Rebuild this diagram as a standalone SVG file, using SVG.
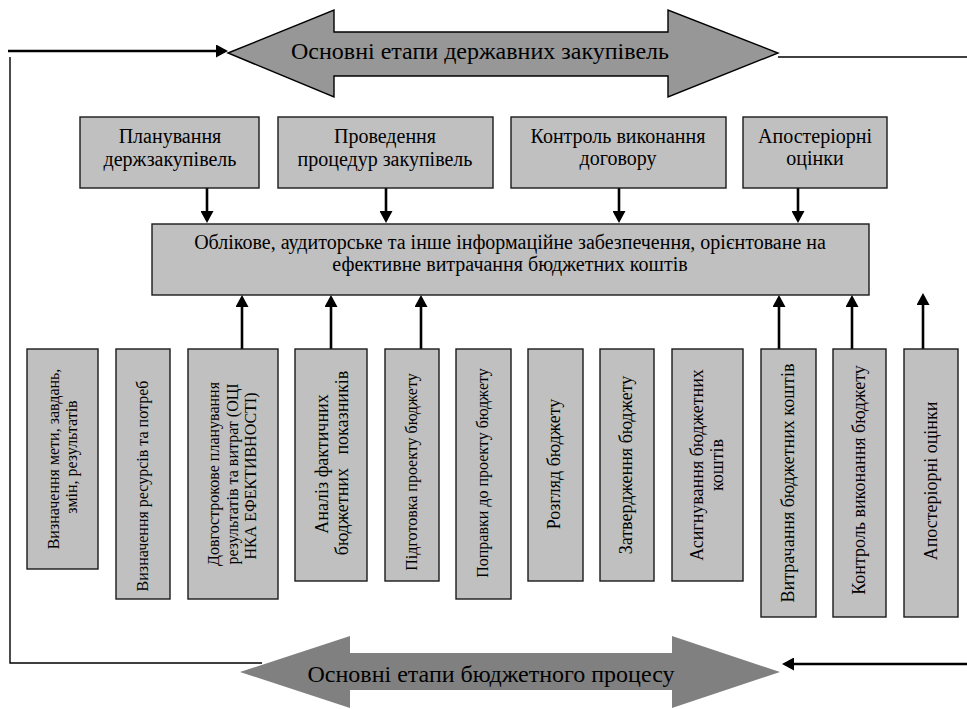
<svg xmlns="http://www.w3.org/2000/svg" width="967" height="709" viewBox="0 0 967 709">
<style>
.box{fill:#c0c0c0;stroke:#1a1a1a;stroke-width:1.4}
.t{font-family:"Liberation Serif","Times New Roman",serif;fill:#000}
.h{font-size:20px;text-anchor:middle}
.v{font-size:16px;text-anchor:middle}
.v2{font-size:18px;text-anchor:middle}
.big{font-size:24px;text-anchor:middle}
.thin{fill:none;stroke:#000;stroke-width:1.4}
.thick{fill:none;stroke:#000;stroke-width:2.6}
</style>
<defs>
<marker id="ah" markerUnits="userSpaceOnUse" markerWidth="12" markerHeight="13" refX="9" refY="6.5" orient="auto">
<path d="M0,0 L12,6.5 L0,13 z" fill="#000"/>
</marker>
</defs>
<rect width="967" height="709" fill="#fff"/>

<g id="top-arrow">
<polygon points="228,53 334,10 334,32 668,32 668,10 778,53 668,97 668,76 334,76 334,97" fill="#979797" stroke="#000" stroke-width="1.4"/>
<text class="t big" x="480" y="59">Основні етапи державних закупівель</text>
</g>

<g id="bottom-arrow">
<polygon points="240,672 350,636 350,653 672,653 672,636 780,672 672,708 672,690 350,690 350,708" fill="#808080"/>
<text class="t big" x="491" y="682">Основні етапи бюджетного процесу</text>
</g>

<g id="connectors">
<path class="thick" d="M8,51 H225" marker-end="url(#ah)"/>
<path class="thin" d="M10,57 V663 H262"/>
<path class="thin" d="M778,57 H967"/>
<path class="thick" d="M967,664 H785" marker-end="url(#ah)"/>
<path class="thick" d="M207,188 V220" marker-end="url(#ah)"/>
<path class="thick" d="M386,188 V220" marker-end="url(#ah)"/>
<path class="thick" d="M619,188 V220" marker-end="url(#ah)"/>
<path class="thick" d="M798,188 V220" marker-end="url(#ah)"/>
<path class="thick" d="M242,354 V298" marker-end="url(#ah)"/>
<path class="thick" d="M331,354 V298" marker-end="url(#ah)"/>
<path class="thick" d="M421,350 V298" marker-end="url(#ah)"/>
<path class="thick" d="M779,349 V298" marker-end="url(#ah)"/>
<path class="thick" d="M852,349 V298" marker-end="url(#ah)"/>
<path class="thick" d="M923,349 V296" marker-end="url(#ah)"/>
</g>

<g id="p1">
<rect class="box" x="80" y="117" width="179" height="71"/>
<text class="t h" x="170" y="143">Планування</text>
<text class="t h" x="170" y="166">держзакупівель</text>
</g>
<g id="p2">
<rect class="box" x="278" y="117" width="215" height="71"/>
<text class="t h" x="385" y="143">Проведення</text>
<text class="t h" x="385" y="166">процедур закупівель</text>
</g>
<g id="p3">
<rect class="box" x="511" y="117" width="215" height="71"/>
<text class="t h" x="618" y="143">Контроль виконання</text>
<text class="t h" x="618" y="165">договору</text>
</g>
<g id="p4">
<rect class="box" x="743" y="117" width="144" height="71"/>
<text class="t h" x="815" y="143">Апостеріорні</text>
<text class="t h" x="815" y="165">оцінки</text>
</g>

<g id="info">
<rect class="box" x="152" y="224" width="717" height="71"/>
<text class="t h" x="510" y="249">Облікове, аудиторське та інше інформаційне забезпечення, орієнтоване на</text>
<text class="t h" x="510" y="271">ефективне витрачання бюджетних коштів</text>
</g>

<g id="b1">
<rect class="box" x="27" y="349" width="71" height="220"/>
<text class="t v" transform="translate(59,459) rotate(-90)">Визначення мети, завдань,</text>
<text class="t v" transform="translate(77,457) rotate(-90)">змін, результатів</text>
</g>
<g id="b2">
<rect class="box" x="116" y="349" width="54" height="250"/>
<text class="t v" transform="translate(148,486) rotate(-90)">Визначення ресурсів та потреб</text>
</g>
<g id="b3">
<rect class="box" x="188" y="349" width="90" height="250"/>
<text class="t v" transform="translate(219,474) rotate(-90)">Довгострокове планування</text>
<text class="t v" transform="translate(238,474) rotate(-90)">результатів та витрат (ОЦІ</text>
<text class="t v" transform="translate(256,476) rotate(-90)">НКА ЕФЕКТИВНОСТІ)</text>
</g>
<g id="b4">
<rect class="box" x="295" y="349" width="72" height="232"/>
<text class="t v2" transform="translate(328,464) rotate(-90)">Аналіз фактичних</text>
<text class="t v2" xml:space="preserve" transform="translate(348,463) rotate(-90)">бюджетних   показників</text>
</g>
<g id="b5">
<rect class="box" x="385" y="349" width="54" height="232"/>
<text class="t v" transform="translate(417,472) rotate(-90)">Підготовка проекту бюджету</text>
</g>
<g id="b6">
<rect class="box" x="456" y="349" width="55" height="250"/>
<text class="t v" transform="translate(488,473) rotate(-90)">Поправки до проекту бюджету</text>
</g>
<g id="b7">
<rect class="box" x="528" y="349" width="55" height="232"/>
<text class="t v2" transform="translate(560,464) rotate(-90)">Розгляд бюджету</text>
</g>
<g id="b8">
<rect class="box" x="600" y="349" width="54" height="232"/>
<text class="t v2" transform="translate(632,465) rotate(-90)">Затвердження бюджету</text>
</g>
<g id="b9">
<rect class="box" x="672" y="349" width="71" height="232"/>
<text class="t v2" transform="translate(703,465) rotate(-90)">Асигнування бюджетних</text>
<text class="t v2" transform="translate(723,465) rotate(-90)">коштів</text>
</g>
<g id="b10">
<rect class="box" x="761" y="349" width="55" height="268"/>
<text class="t v2" transform="translate(794,483) rotate(-90)">Витрачання бюджетних коштів</text>
</g>
<g id="b11">
<rect class="box" x="833" y="349" width="53" height="268"/>
<text class="t v2" transform="translate(865,480) rotate(-90)">Контроль виконання бюджету</text>
</g>
<g id="b12">
<rect class="box" x="904" y="349" width="54" height="268"/>
<text class="t v2" transform="translate(937,481) rotate(-90)">Апостеріорні оцінки</text>
</g>
</svg>
